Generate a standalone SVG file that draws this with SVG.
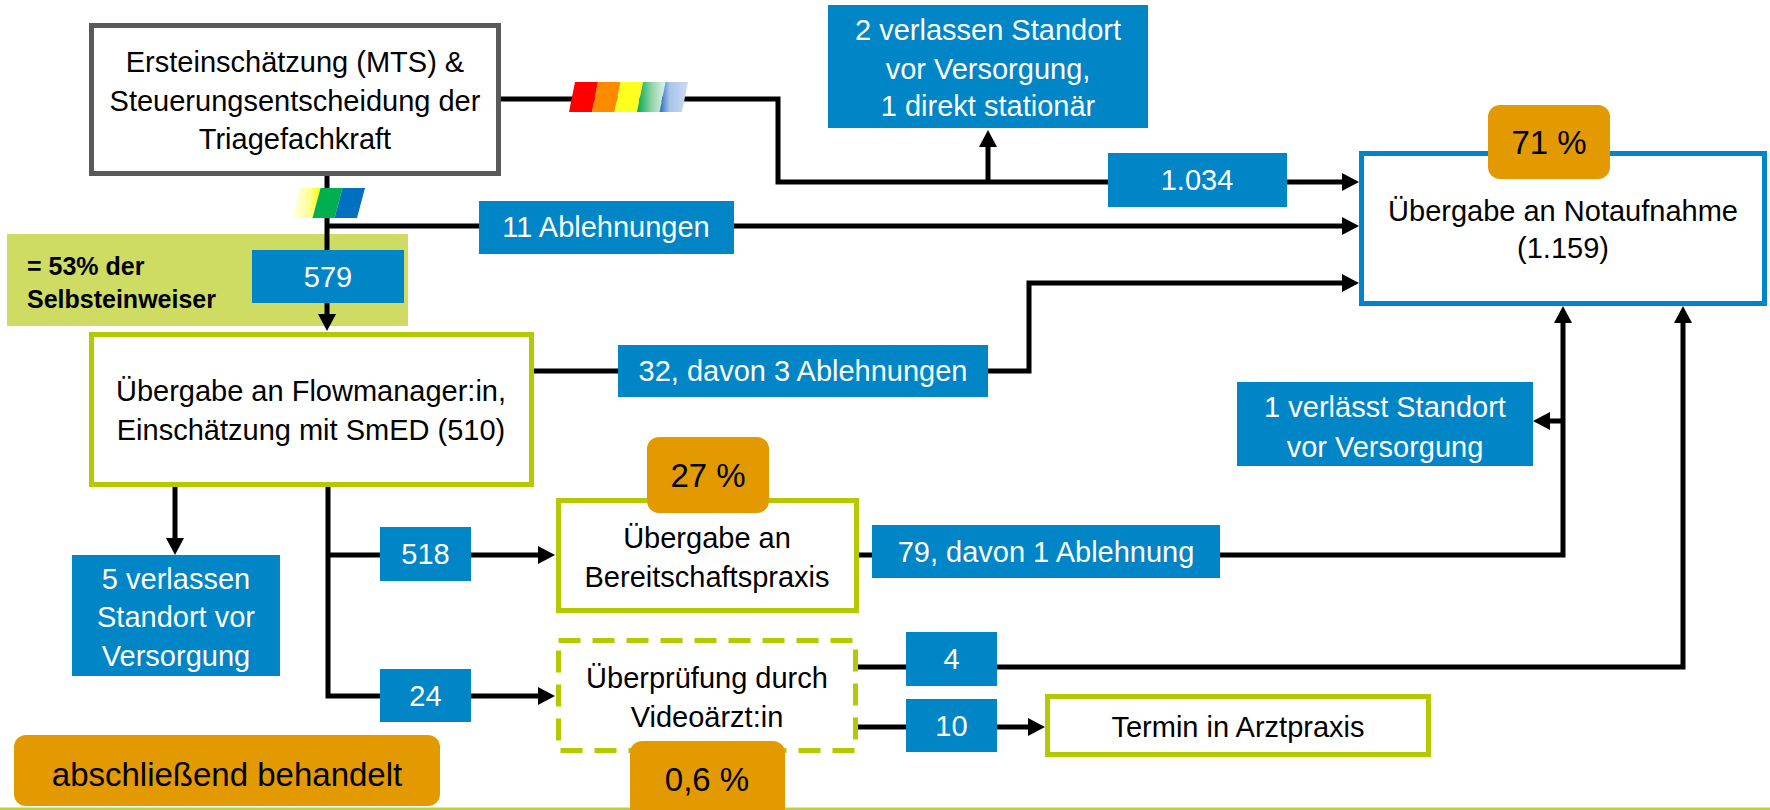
<svg xmlns="http://www.w3.org/2000/svg" width="1770" height="810" viewBox="0 0 1770 810">
<defs>
<style>
.t{font-family:"Liberation Sans",Arial,sans-serif;font-size:29px;text-anchor:middle;fill:#000}
.w{fill:#fff}
.o{font-size:33px}
.b{font-family:"Liberation Sans",Arial,sans-serif;font-size:25px;font-weight:bold;fill:#000}
.blue{fill:#0085C6}
.orange{fill:#E39A00}
.gbox{fill:#fff;stroke:#B5C900;stroke-width:5}
.con{fill:none;stroke:#000;stroke-width:5;stroke-linejoin:miter}
</style>
<marker id="ah" markerUnits="userSpaceOnUse" markerWidth="18" markerHeight="18" viewBox="0 0 18 18" refX="1" refY="9" orient="auto">
<path d="M0,0 L17,9 L0,18 z" fill="#000"/>
</marker>
<linearGradient id="gGreen" x1="0" y1="0" x2="1" y2="0">
<stop offset="0" stop-color="#00A850"/><stop offset="0.5" stop-color="#8FD3A5"/><stop offset="1" stop-color="#E0F3E6"/>
</linearGradient>
<linearGradient id="gBlue" x1="0" y1="0" x2="1" y2="0">
<stop offset="0" stop-color="#1E6FC0"/><stop offset="0.35" stop-color="#A9C4EA"/><stop offset="1" stop-color="#CCDAF2"/>
</linearGradient>
<linearGradient id="gYel" x1="0" y1="0" x2="1" y2="0">
<stop offset="0" stop-color="#FFFFE8"/><stop offset="0.6" stop-color="#FFFF9A"/><stop offset="1" stop-color="#FFFF00"/>
</linearGradient>
</defs>
<rect x="0" y="0" width="1770" height="810" fill="#fff"/>
<rect x="0" y="807.5" width="1770" height="2.5" fill="#BFCF3A"/>

<g id="n-selbsteinweiser">
<rect x="7" y="234" width="401" height="92" fill="#CEDC64"/>
<text class="b" x="27" y="275">= 53% der</text>
<text class="b" x="27" y="308">Selbsteinweiser</text>
</g>

<g id="connectors">
<path class="con" d="M501,99 H778 V182 H1343" marker-end="url(#ah)"/>
<path class="con" d="M988,182 V146" marker-end="url(#ah)"/>
<path class="con" d="M327,176 V315" marker-end="url(#ah)"/>
<path class="con" d="M327,226 H1343" marker-end="url(#ah)"/>
<path class="con" d="M534,371 H1029 V283 H1343" marker-end="url(#ah)"/>
<path class="con" d="M175,487 V539" marker-end="url(#ah)"/>
<path class="con" d="M328,487 V696 H539" marker-end="url(#ah)"/>
<path class="con" d="M328,555 H539" marker-end="url(#ah)"/>
<path class="con" d="M859,555 H1563 V322" marker-end="url(#ah)"/>
<path class="con" d="M1563,421 H1549" marker-end="url(#ah)"/>
<path class="con" d="M858,667 H1683 V322" marker-end="url(#ah)"/>
<path class="con" d="M858,727 H1029" marker-end="url(#ah)"/>
</g>

<g id="rainbow-1">
<polygon points="575,82 598,82 592,112 569,112" fill="#FF0000"/>
<polygon points="598,82 620.5,82 614.5,112 592,112" fill="#FF8A00"/>
<polygon points="620.5,82 643,82 637,112 614.5,112" fill="#FFFF20"/>
<polygon points="643,82 665.5,82 659.5,112 637,112" fill="url(#gGreen)"/>
<polygon points="665.5,82 688,82 682,112 659.5,112" fill="url(#gBlue)"/>
</g>
<g id="rainbow-2">
<polygon points="300,188 320.5,188 312.5,218 292,218" fill="url(#gYel)"/>
<polygon points="320.5,188 342.5,188 334.5,218 312.5,218" fill="#00B050"/>
<polygon points="342.5,188 365,188 357,218 334.5,218" fill="#0070C0"/>
</g>

<g id="n-triage">
<rect x="91.5" y="25.5" width="407" height="148" fill="#fff" stroke="#595959" stroke-width="5"/>
<text class="t" x="295" y="72">Ersteinschätzung (MTS) &amp;</text>
<text class="t" x="295" y="111">Steuerungsentscheidung der</text>
<text class="t" x="295" y="149">Triagefachkraft</text>
</g>

<g id="n-verlassen2">
<rect class="blue" x="828" y="5" width="320" height="123"/>
<text class="t w" x="988" y="40">2 verlassen Standort</text>
<text class="t w" x="988" y="79">vor Versorgung,</text>
<text class="t w" x="988" y="116">1 direkt stationär</text>
</g>

<g id="l-1034">
<rect class="blue" x="1108" y="153" width="179" height="54"/>
<text class="t w" x="1197" y="190">1.034</text>
</g>

<g id="n-notaufnahme">
<rect x="1361.5" y="153.5" width="403" height="150" fill="#fff" stroke="#0085C6" stroke-width="5"/>
<text class="t" x="1563" y="221">Übergabe an Notaufnahme</text>
<text class="t" x="1563" y="258">(1.159)</text>
</g>
<g id="p-71">
<rect class="orange" x="1488" y="105" width="122" height="74" rx="12"/>
<text class="t o" x="1549" y="154">71 %</text>
</g>

<g id="l-11">
<rect class="blue" x="479" y="201" width="255" height="53"/>
<text class="t w" x="606" y="237">11 Ablehnungen</text>
</g>

<g id="l-579">
<rect class="blue" x="252" y="250" width="152" height="53"/>
<text class="t w" x="328" y="287">579</text>
</g>

<g id="n-flowmanager">
<rect class="gbox" x="91.5" y="334.5" width="440" height="150"/>
<text class="t" x="311" y="401">Übergabe an Flowmanager:in,</text>
<text class="t" x="311" y="440">Einschätzung mit SmED (510)</text>
</g>

<g id="l-32">
<rect class="blue" x="618" y="345" width="370" height="52"/>
<text class="t w" x="803" y="381">32, davon 3 Ablehnungen</text>
</g>

<g id="n-verlaesst1">
<rect class="blue" x="1237" y="382" width="296" height="84"/>
<text class="t w" x="1385" y="417">1 verlässt Standort</text>
<text class="t w" x="1385" y="457">vor Versorgung</text>
</g>

<g id="n-verlassen5">
<rect class="blue" x="72" y="555" width="208" height="121"/>
<text class="t w" x="176" y="589">5 verlassen</text>
<text class="t w" x="176" y="627">Standort vor</text>
<text class="t w" x="176" y="666">Versorgung</text>
</g>

<g id="l-518">
<rect class="blue" x="380" y="527" width="91" height="54"/>
<text class="t w" x="425.5" y="564">518</text>
</g>
<g id="l-24">
<rect class="blue" x="380" y="669" width="91" height="53"/>
<text class="t w" x="425.5" y="706">24</text>
</g>

<g id="n-bereitschaft">
<rect class="gbox" x="558.5" y="500.5" width="298" height="110"/>
<text class="t" x="707" y="548">Übergabe an</text>
<text class="t" x="707" y="587">Bereitschaftspraxis</text>
</g>
<g id="p-27">
<rect class="orange" x="647" y="437" width="122" height="76" rx="12"/>
<text class="t o" x="708" y="487">27 %</text>
</g>

<g id="l-79">
<rect class="blue" x="872" y="525" width="348" height="53"/>
<text class="t w" x="1046" y="562">79, davon 1 Ablehnung</text>
</g>

<g id="n-video">
<rect x="558.5" y="640.5" width="297" height="110" fill="#fff" stroke="#B5C900" stroke-width="5" stroke-dasharray="22 12"/>
<text class="t" x="707" y="688">Überprüfung durch</text>
<text class="t" x="707" y="727">Videoärzt:in</text>
</g>

<g id="l-4">
<rect class="blue" x="906" y="632" width="91" height="54"/>
<text class="t w" x="951.5" y="669">4</text>
</g>
<g id="l-10">
<rect class="blue" x="906" y="699" width="91" height="53"/>
<text class="t w" x="951.5" y="736">10</text>
</g>

<g id="n-termin">
<rect class="gbox" x="1047.5" y="696.5" width="381" height="58"/>
<text class="t" x="1238" y="737">Termin in Arztpraxis</text>
</g>

<g id="p-06">
<rect class="orange" x="630" y="741" width="155" height="90" rx="12"/>
<text class="t o" x="707" y="791">0,6 %</text>
</g>

<g id="n-abschliessend">
<rect class="orange" x="14" y="735" width="426" height="71" rx="12"/>
<text class="t o" x="227" y="786">abschließend behandelt</text>
</g>
</svg>
